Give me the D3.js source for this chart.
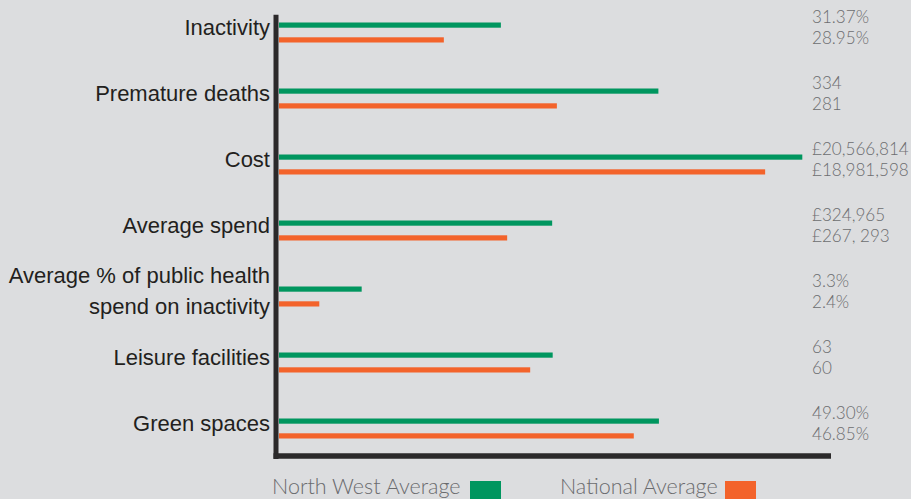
<!DOCTYPE html>
<html>
<head>
<meta charset="utf-8">
<script src="https://cdn.jsdelivr.net/npm/d3@7"></script>
<style>
  html, body { margin: 0; padding: 0; background: #dcdddf; }
  svg { display: block; }
</style>
</head>
<body>
<svg id="chart" width="911" height="499"></svg>
<script>
// ---- data ----
const categories = [
  "Inactivity",
  "Premature deaths",
  "Cost",
  "Average spend",
  "Average % of public health spend on inactivity",
  "Leisure facilities",
  "Green spaces"
];
const categoryLines = [
  ["Inactivity"],
  ["Premature deaths"],
  ["Cost"],
  ["Average spend"],
  ["Average % of public health", "spend on inactivity"],
  ["Leisure facilities"],
  ["Green spaces"]
];
// bar lengths as drawn (index, longest bar = 100)
const northWestBar = [42.4, 72.5, 100, 52.2, 15.8, 52.3, 72.6];
const nationalBar  = [31.5, 53.1, 92.9, 43.6, 7.7, 48.0, 67.8];
// value labels shown at right
const northWestLabels = ["31.37%", "334", "£20,566,814", "£324,965", "3.3%", "63", "49.30%"];
const nationalLabels  = ["28.95%", "281", "£18,981,598", "£267, 293", "2.4%", "60", "46.85%"];
const seriesNames = ["North West Average", "National Average"];

// ---- layout / style ----
const W = 911, H = 499;
const GREEN = "#00965f", ORANGE = "#f3632b";
const AXIS = "#2b292a", LABEL = "#231f20", VALUE = "#6c6d70";
const FONT = "'Liberation Sans', Arial, sans-serif";
const LIGHT = "Lato, 'Liberation Sans', sans-serif";

const svg = d3.select("#chart");
svg.append("rect").attr("width", W).attr("height", H).attr("fill", "#dcdddf");

const x = d3.scaleLinear().domain([0, 100]).range([279, 802.3]);
const y = d3.scalePoint().domain(categories).range([32.5, 428.5]);
const pairOffset = 7.4, barH = 5.2;

const rows = categories.map((c, i) => ({
  cat: c, lines: categoryLines[i],
  nw: northWestBar[i], na: nationalBar[i],
  nwL: northWestLabels[i], naL: nationalLabels[i]
}));

// bars
const g = svg.append("g");
g.selectAll("rect.nw").data(rows).join("rect")
  .attr("class", "nw")
  .attr("x", x(0))
  .attr("y", d => y(d.cat) - pairOffset - barH / 2)
  .attr("width", d => x(d.nw) - x(0))
  .attr("height", barH)
  .attr("fill", GREEN);
g.selectAll("rect.na").data(rows).join("rect")
  .attr("class", "na")
  .attr("x", x(0))
  .attr("y", d => y(d.cat) + pairOffset - barH / 2)
  .attr("width", d => x(d.na) - x(0))
  .attr("height", barH)
  .attr("fill", ORANGE);

// axes (plain lines, as in the reference)
const axisX = x(0) - 3;
const axisTop = 14.7, axisY = 456;
svg.append("line")
  .attr("x1", axisX).attr("x2", axisX)
  .attr("y1", axisTop).attr("y2", axisY + 3)
  .attr("stroke", AXIS).attr("stroke-width", 5);
svg.append("line")
  .attr("x1", axisX - 2.5).attr("x2", 831)
  .attr("y1", axisY).attr("y2", axisY)
  .attr("stroke", AXIS).attr("stroke-width", 5.5);

// category labels
const lineH = 31;
rows.forEach(d => {
  const n = d.lines.length;
  d.lines.forEach((t, j) => {
    svg.append("text")
      .attr("x", 270)
      .attr("y", y(d.cat) + 2 + (j - (n - 1) / 2) * lineH)
      .attr("text-anchor", "end")
      .attr("font-family", FONT)
      .attr("font-size", 22)
      .attr("fill", LABEL)
      .text(t);
  });
});

// value labels
const vx = 812;
svg.selectAll("text.vnw").data(rows).join("text")
  .attr("class", "vnw")
  .attr("x", vx).attr("y", d => y(d.cat) - 9.5)
  .attr("font-family", LIGHT).attr("font-weight", 300).attr("font-size", 17.1)
  .attr("fill", VALUE).text(d => d.nwL);
svg.selectAll("text.vna").data(rows).join("text")
  .attr("class", "vna")
  .attr("x", vx).attr("y", d => y(d.cat) + 11)
  .attr("font-family", LIGHT).attr("font-weight", 300).attr("font-size", 17.1)
  .attr("fill", VALUE).text(d => d.naL);

// legend
const legend = [
  { name: seriesNames[0], color: GREEN, tx: 272, sx: 470 },
  { name: seriesNames[1], color: ORANGE, tx: 560, sx: 725 }
];
legend.forEach(l => {
  svg.append("text")
    .attr("x", l.tx).attr("y", 494)
    .attr("font-family", LIGHT).attr("font-weight", 300).attr("font-size", 21.5)
    .attr("fill", "#6a6b6e").text(l.name);
  svg.append("rect")
    .attr("x", l.sx).attr("y", 481)
    .attr("width", 31).attr("height", 25)
    .attr("fill", l.color);
});
</script>
</body>
</html>
